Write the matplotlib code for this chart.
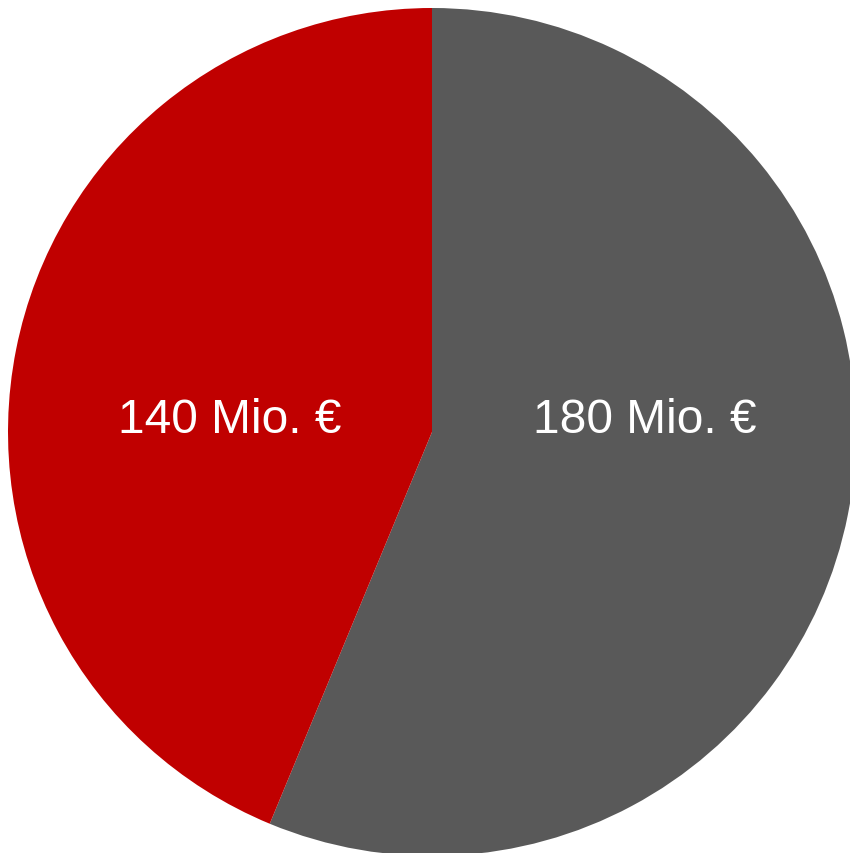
import numpy as np
import matplotlib
matplotlib.use('Agg')
import matplotlib.pyplot as plt

# Values
labels = ['180 Mio. €', '140 Mio. €']
values = [180, 140]
colors = ['#595959', '#C00000']

plt.rcParams['font.family'] = ['Liberation Sans', 'DejaVu Sans']

fig = plt.figure(figsize=(8.5, 8.54), dpi=100)
# place the pie box in pixels: centre (432, 432) from top-left, radius 424
ax = fig.add_axes([8 / 850, -3 / 854, 848 / 850, 848 / 854])

wedges, _ = ax.pie(values, colors=colors, startangle=90, counterclock=False,
                   radius=1.0, wedgeprops={'linewidth': 0})
ax.set_xlim(-1, 1)
ax.set_ylim(-1, 1)
ax.axis('off')

# labels sit roughly level, slightly above the centre
label_pos = [(0.502, 0.03), (-0.476, 0.03)]
for (x, y), txt in zip(label_pos, labels):
    ax.text(x, y, txt, ha='center', va='center', color='white', fontsize=34.5)

fig.savefig('out.png', dpi=100)
